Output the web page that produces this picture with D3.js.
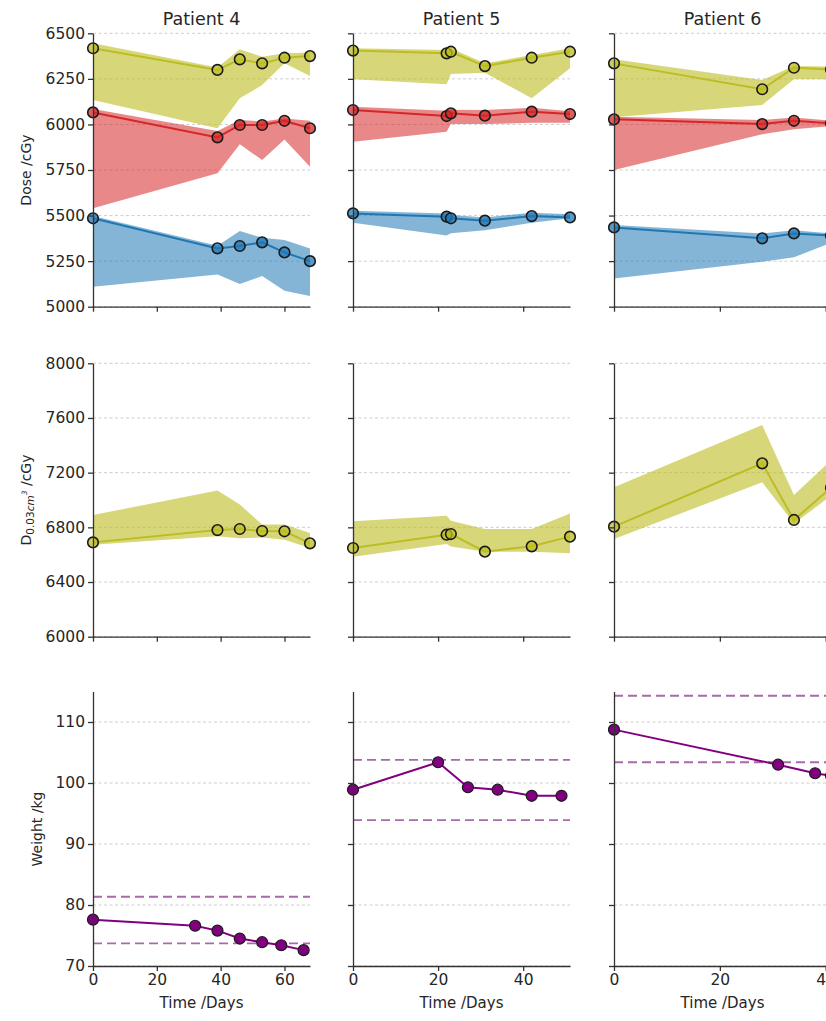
<!DOCTYPE html>
<html>
<head>
<meta charset="utf-8">
<script src="https://cdn.jsdelivr.net/npm/d3@7"></script>
<style>
  body { margin: 0; background: #fff; overflow: hidden; }
  svg { font-family: "DejaVu Sans", sans-serif; display: block; }
</style>
</head>
<body>
<div class="canvas"></div>
<script>
// patients (columns)
const patients = ['Patient 4', 'Patient 5', 'Patient 6'];
const dayMax = [68, 51, 41];
const dayTicks = [[0, 20, 40, 60], [0, 20, 40], [0, 20, 40]];

// dose series, one array per patient
const doseDays = [[0, 39, 46, 53, 60, 68], [0, 22, 23, 31, 42, 51], [0, 28, 34, 41]];

const oliveMid = [[6418, 6299, 6357, 6335, 6366, 6375], [6405, 6390, 6399, 6320, 6366, 6399], [6335, 6193, 6311, 6302]];
const oliveHi  = [[6445, 6312, 6412, 6372, 6390, 6395], [6418, 6408, 6418, 6335, 6381, 6418], [6357, 6244, 6320, 6317]];
const oliveLo  = [[6134, 5979, 6143, 6216, 6335, 6266], [6248, 6220, 6277, 6284, 6143, 6308], [6039, 6107, 6248, 6248]];

const redMid = [[6066, 5929, 5997, 5997, 6020, 5979], [6079, 6046, 6061, 6048, 6070, 6057], [6028, 6002, 6020, 6006]];
const redHi  = [[6084, 5964, 6024, 6016, 6033, 6020], [6097, 6075, 6080, 6079, 6091, 6073], [6042, 6024, 6038, 6020]];
const redLo  = [[5540, 5732, 5891, 5805, 5918, 5768], [5905, 5960, 6002, 6002, 6009, 6009], [5750, 5946, 5973, 5991]];

const blueMid = [[5485, 5320, 5333, 5353, 5298, 5250], [5512, 5494, 5485, 5472, 5497, 5490], [5435, 5375, 5402, 5390]];
const blueHi  = [[5497, 5335, 5415, 5378, 5366, 5320], [5527, 5512, 5503, 5490, 5516, 5507], [5448, 5402, 5420, 5402]];
const blueLo  = [[5109, 5177, 5124, 5168, 5088, 5059], [5461, 5390, 5403, 5420, 5461, 5485], [5155, 5247, 5271, 5351]];

// D 0.03cm3 series
const maxMid = [[6690, 6780, 6788, 6773, 6771, 6683], [6649, 6746, 6751, 6622, 6661, 6732], [6805, 7268, 6854, 7090]];
const maxHi  = [[6890, 7070, 6967, 6820, 6820, 6758], [6844, 6885, 6849, 6788, 6788, 6902], [7093, 7549, 7037, 7290]];
const maxLo  = [[6672, 6734, 6721, 6726, 6709, 6648], [6585, 6678, 6659, 6622, 6622, 6610], [6715, 7129, 6829, 7030]];

// weight
const weightDays = [[0, 32, 39, 46, 53, 59, 66], [0, 20, 27, 34, 42, 49], [0, 31, 38, 41]];
const weight = [[77.6, 76.6, 75.8, 74.5, 73.9, 73.4, 72.6], [98.9, 103.4, 99.3, 98.9, 97.9, 97.9], [108.75, 103.0, 101.6, 101.2]];
const weightLimits = [[73.7, 81.35], [93.9, 103.8], [103.4, 114.3]];

// row axes
const doseTicks = [5000, 5250, 5500, 5750, 6000, 6250, 6500];
const maxTicks = [6000, 6400, 6800, 7200, 7600, 8000];
const weightTicks = [70, 80, 90, 100, 110];

// layout
const colX = [93, 353, 614];
const plotW = 217;
const rows = [
    { top: 33.3, bottom: 306.7, domain: [5000, 6500], ticks: doseTicks },
    { top: 363.3, bottom: 636.7, domain: [6000, 8000], ticks: maxTicks },
    { top: 691.5, bottom: 966, domain: [70, 115], ticks: weightTicks }
];

const olive = '#bcbd22', red = '#d62728', blue = '#1f77b4', purple = '#800080';

const svg = d3.select('.canvas')
    .append('svg')
    .attr('width', 826)
    .attr('height', 1021);

const toPts = (days, vals) => days.map((d, i) => ({ x: d, y: vals[i] }));
const toBand = (days, lo, hi) => days.map((d, i) => ({ x: d, lo: lo[i], hi: hi[i] }));

patients.forEach((name, c) => {

    const x = d3.scaleLinear().domain([0, dayMax[c]]).range([0, plotW]);

    rows.forEach((row, r) => {

        const h = row.bottom - row.top;
        const y = d3.scaleLinear().domain(row.domain).range([h, 0]);

        const g = svg.append('g')
            .attr('transform', `translate(${colX[c]}, ${row.top})`);

        // dashed grid
        g.selectAll('line.grid')
            .data(row.ticks)
            .enter().append('line')
                .attr('x1', 0).attr('x2', plotW)
                .attr('y1', d => y(d)).attr('y2', d => y(d))
                .attr('stroke', '#c8c8c8')
                .attr('stroke-width', 0.9)
                .attr('stroke-dasharray', '3,2.5');

        const line = d3.line().x(d => x(d.x)).y(d => y(d.y));
        const area = d3.area().x(d => x(d.x)).y0(d => y(d.lo)).y1(d => y(d.hi));

        let series = [];
        if (r === 0) {
            series = [
                { col: blue, mid: blueMid[c], lo: blueLo[c], hi: blueHi[c] },
                { col: red, mid: redMid[c], lo: redLo[c], hi: redHi[c] },
                { col: olive, mid: oliveMid[c], lo: oliveLo[c], hi: oliveHi[c] }
            ];
        } else if (r === 1) {
            series = [{ col: olive, mid: maxMid[c], lo: maxLo[c], hi: maxHi[c] }];
        }

        // bands
        series.forEach(s => {
            g.append('path')
                .datum(toBand(doseDays[c], s.lo, s.hi))
                .attr('d', area)
                .attr('fill', s.col)
                .attr('fill-opacity', s.col === olive ? 0.6 : 0.55);
        });

        // lines and markers
        series.forEach(s => {
            const pts = toPts(doseDays[c], s.mid);
            g.append('path')
                .datum(pts)
                .attr('d', line)
                .attr('fill', 'none')
                .attr('stroke', s.col)
                .attr('stroke-width', 2);
            g.selectAll(null)
                .data(pts)
                .enter().append('circle')
                    .attr('cx', d => x(d.x))
                    .attr('cy', d => y(d.y))
                    .attr('r', 5.3)
                    .attr('fill', s.col)
                    .attr('fill-opacity', 0.75)
                    .attr('stroke', '#1a1a1a')
                    .attr('stroke-width', 1.6);
        });

        if (r === 2) {
            // weight limits
            g.selectAll('line.limit')
                .data(weightLimits[c])
                .enter().append('line')
                    .attr('x1', 0).attr('x2', plotW)
                    .attr('y1', d => y(d)).attr('y2', d => y(d))
                    .attr('stroke', '#a86aa8')
                    .attr('stroke-width', 1.8)
                    .attr('stroke-dasharray', '9,5');

            const pts = toPts(weightDays[c], weight[c]);
            g.append('path')
                .datum(pts)
                .attr('d', line)
                .attr('fill', 'none')
                .attr('stroke', purple)
                .attr('stroke-width', 2);
            g.selectAll(null)
                .data(pts)
                .enter().append('circle')
                    .attr('cx', d => x(d.x))
                    .attr('cy', d => y(d.y))
                    .attr('r', 5.5)
                    .attr('fill', purple)
                    .attr('stroke', '#1a1a1a')
                    .attr('stroke-width', 1.2);
        }

        // axes
        const yAxis = d3.axisLeft(y)
            .tickValues(row.ticks)
            .tickFormat(d3.format('d'))
            .tickSize(5)
            .tickSizeOuter(0)
            .tickPadding(3);
        if (c > 0) yAxis.tickFormat('');

        const xAxis = d3.axisBottom(x)
            .tickValues(dayTicks[c])
            .tickFormat(d3.format('d'))
            .tickSize(5)
            .tickSizeOuter(0)
            .tickPadding(3);
        if (r < 2) xAxis.tickFormat('');

        [g.append('g').call(yAxis),
         g.append('g').attr('transform', `translate(0, ${h})`).call(xAxis)]
            .forEach(a => {
                a.selectAll('path, line').attr('stroke', '#333').attr('stroke-width', 1.3);
                a.selectAll('text')
                    .attr('fill', '#262626')
                    .style('font-family', '"DejaVu Sans", sans-serif')
                    .style('font-size', '15.5px');
            });

        if (r === 2) {
            g.append('text')
                .attr('x', plotW / 2)
                .attr('y', h + 42)
                .attr('text-anchor', 'middle')
                .attr('fill', '#262626')
                .style('font-size', '15px')
                .text('Time /Days');
        }
    });

    // patient title
    svg.append('text')
        .attr('x', colX[c] + plotW / 2)
        .attr('y', 25)
        .attr('text-anchor', 'middle')
        .attr('fill', '#262626')
        .style('font-size', '17.5px')
        .text(name);
});

// y labels
const yLabel = (cx, cy) => svg.append('text')
    .attr('transform', `translate(${cx}, ${cy}) rotate(-90)`)
    .attr('text-anchor', 'middle')
    .attr('fill', '#262626')
    .style('font-size', '14px');

yLabel(31, 170).text('Dose /cGy');

const dl = yLabel(31, 500);
dl.append('tspan').text('D');
dl.append('tspan').attr('dy', 3).style('font-size', '10.5px').text('0.03');
dl.append('tspan').style('font-size', '10.5px').style('font-style', 'italic').text('cm');
dl.append('tspan').attr('dy', -7).style('font-size', '7.5px').style('font-style', 'italic').text('3');
dl.append('tspan').attr('dy', 4).text(' /cGy');

yLabel(42, 829).text('Weight /kg');
</script>
</body>
</html>
